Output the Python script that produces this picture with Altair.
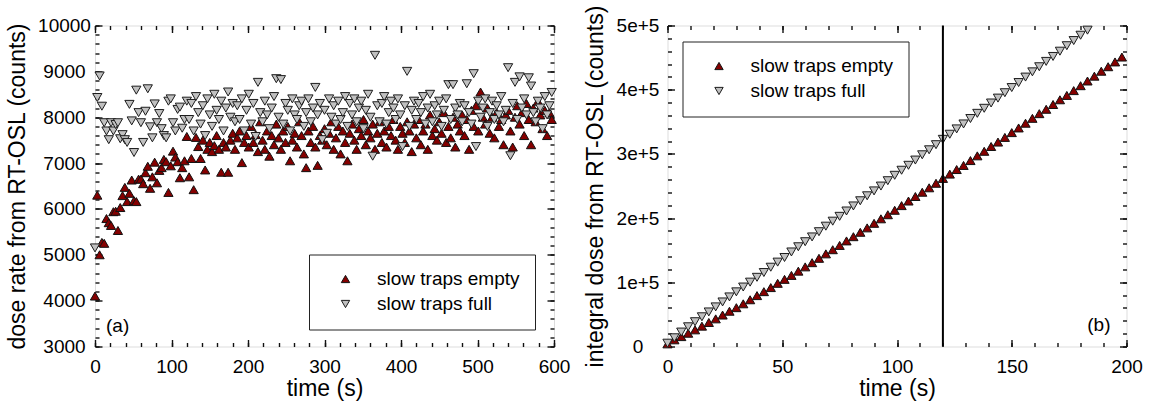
import altair as alt
import pandas as pd

FONT = "Liberation Sans"

# ---- data -------------------------------------------------------------
series_names = ["slow traps empty", "slow traps full"]
channel_s = 3
time_s = [channel_s * i for i in range(200)]

# dose rate (counts per channel), slow traps empty
empty_rate = [
    4100, 6300, 5000, 5270, 5250, 5790, 5700, 5640, 5940, 5950,
    5530, 6030, 6290, 6470, 6160, 6340, 6630, 6180, 6160, 6650,
    6650, 6550, 6790, 6930, 6450, 6700, 7020, 6570, 6840, 6900,
    7080, 7030, 6360, 6940, 7260, 7130, 7030, 6680, 6900, 7050,
    7580, 6700, 7100, 6420, 7560, 7360, 7100, 7500, 6850, 7300,
    7450, 7250, 7380, 7600, 7300, 6800, 7450, 7350, 6800, 7500,
    7650, 7300, 7550, 7700, 7010, 7450, 7600, 7350, 7800, 7450,
    7620, 7250, 7900, 7500, 7300, 7700, 7150, 7600, 7400, 7850,
    7550, 7300, 7700, 7450, 7800, 7050, 7500, 7650, 7350, 7900,
    7600, 7200, 6900, 7700, 7450, 7800, 7350, 6950, 7600, 7500,
    7750, 7400, 7650, 7900, 7300, 7550, 7800, 7200, 7700, 7450,
    7050, 7650, 7850, 7500, 7300, 7750, 7600, 7950, 7400, 7700,
    7550, 7850, 7300, 7650, 7900, 7450, 7700, 7350, 7800, 7600,
    7950, 7500, 7300, 7800, 7650, 7450, 7900, 7700, 7250, 7850,
    7550, 7950, 7400, 7700, 7850, 7300, 8050, 7600, 7750, 7500,
    7900, 7650, 8100, 7450, 7800, 7550, 8000, 7350, 7850, 7700,
    8050, 7600, 7950, 7300, 8150, 7800, 8250, 7700, 8550, 8000,
    7850, 8200, 7650, 8000, 7550, 8100, 7800, 7950, 7400, 8050,
    8150, 7700, 7350, 8000, 8250, 7850, 8100, 7600, 8300, 7950,
    7400, 8200, 7900, 8350, 8050, 7750, 8150, 7600, 8100, 7950,
]

# dose rate (counts per channel), slow traps full
full_rate = [
    5150, 8430, 8900, 8240, 7880, 7700, 7510, 7880, 7700, 7840,
    7880, 7530, 7620, 7510, 7450, 8280, 7920, 7230, 8590, 8100,
    7880, 7450, 8130, 8620, 7790, 7550, 8290, 7880, 8080, 7750,
    7600, 7550, 8350, 8400, 7880, 7700, 8170, 8220, 7760, 7950,
    8350, 7950, 8300, 7700, 8450, 8100, 7850, 8250, 7600, 8400,
    8050, 7800, 8500, 8150, 7950, 8350, 7700, 8200, 8550, 8000,
    8300, 7900, 8250, 7950, 8400, 7700, 8150, 8500, 7850, 8300,
    7580, 8760, 8100, 7900, 8350, 8050, 7750, 8200, 8450, 8840,
    8000, 8820, 7850, 8300, 8150, 7700, 8400, 8050, 7950, 8250,
    8350, 7800, 8100, 8400, 7900, 8200, 8650, 8050, 8300, 7510,
    8150, 7650, 8400, 8000, 8250, 7850, 8350, 7950, 8100, 8450,
    7800, 8300, 8050, 8400, 7900, 8200, 8350, 7750, 8150, 8500,
    8000, 7150, 9350, 8250, 7900, 8300, 8450, 7850, 8100, 8350,
    8200, 7950, 8400, 8050, 7360, 8250, 9000, 7800, 8150, 8350,
    7950, 8300, 8100, 8450, 7850, 8200, 8500, 7900, 8250, 8050,
    8350, 7800, 8150, 8400, 8710, 7950, 8710, 8200, 8050, 8300,
    7900, 8250, 8730, 8100, 7850, 8950, 7360, 8350, 8000, 8200,
    8400, 7800, 8100, 8350, 7950, 8250, 8050, 8450, 7900, 8150,
    9080, 7160, 8300, 8760, 7950, 8880, 8200, 8400, 8050, 8860,
    8680, 8100, 7900, 8350, 8200, 7750, 8450, 8050, 8250, 8540,
]

marker_time = [120]

left_x_major = [0, 100, 200, 300, 400, 500, 600]
left_x_minor = list(range(0, 601, 20))
left_y_major = [3000, 4000, 5000, 6000, 7000, 8000, 9000, 10000]
left_y_minor = list(range(3000, 10001, 200))
right_x_major = [0, 50, 100, 150, 200]
right_x_minor = list(range(0, 201, 10))
right_y_major = [0, 100000, 200000, 300000, 400000, 500000]
right_y_minor = list(range(0, 500001, 20000))

df = pd.DataFrame({
    "t": time_s + time_s,
    "v": empty_rate + full_rate,
    "series": [series_names[0]] * len(time_s) + [series_names[1]] * len(time_s),
})

# ---- styling helpers ---------------------------------------------------
W, H = 459, 321
MAJ, MIN = 7, 4
TICK_COLOR = "#111111"


def axis(orient, values, major=True, labels=False, title=None, fmt=None,
         label_expr=None, pad=0, title_pad=0, align=None):
    size = MAJ if major else MIN
    kw = dict(orient=orient, values=values, offset=-size, tickSize=size,
              domain=False, grid=False, labels=labels, ticks=True,
              tickColor=TICK_COLOR, tickWidth=1.4)
    if labels:
        kw.update(labelFont=FONT, labelFontSize=19, labelColor="black",
                  labelPadding=pad, labelFlush=False, labelOverlap=False)
        if align:
            kw.update(labelAlign=align, labelBaseline="middle")
    if fmt:
        kw["format"] = fmt
    if label_expr:
        kw["labelExpr"] = label_expr
    if title:
        kw.update(title=title, titleFont=FONT, titleFontSize=23,
                  titleFontWeight="normal", titleColor="black",
                  titlePadding=title_pad)
    return alt.Axis(**kw)


def legend(lx, ly):
    return alt.Legend(
        orient="none", legendX=lx, legendY=ly, title=None,
        strokeColor="#222222", fillColor="white", padding=15,
        labelFont=FONT, labelFontSize=19, labelColor="black",
        symbolSize=70, symbolStrokeWidth=1,
        symbolOffset=12, labelOffset=22, rowPadding=5,
    )


def panel(base, xscale, yscale, xmaj, xmin, ymaj, ymin, xtitle, ytitle,
          yfmt=None, ylabel_expr=None, ypad=31, ytitle_pad=10,
          lx=0, ly=0, extra=None, tag=None):
    shape = alt.Shape("series:N", title=None,
                      scale=alt.Scale(domain=series_names,
                                      range=["triangle-up", "triangle-down"]),
                      legend=legend(lx, ly))
    fill = alt.Fill("series:N", title=None,
                    scale=alt.Scale(domain=series_names,
                                    range=["#850000", "#c0c0c0"]),
                    legend=legend(lx, ly))
    stroke = alt.Stroke("series:N", title=None,
                        scale=alt.Scale(domain=series_names,
                                        range=["#111111", "#1c1c1c"]),
                        legend=legend(lx, ly))
    pts = base.mark_point(filled=True, size=85, opacity=1,
                          strokeWidth=1).encode(
        x=alt.X("t:Q", scale=xscale,
                axis=axis("bottom", xmaj, True, True, xtitle, fmt="d",
                          pad=11, title_pad=1)),
        y=alt.Y("v:Q", scale=yscale,
                axis=axis("left", ymaj, True, True, ytitle, fmt=yfmt,
                          label_expr=ylabel_expr, pad=ypad,
                          title_pad=ytitle_pad, align="center")),
        shape=shape, fill=fill, stroke=stroke,
    )
    ghost = base.mark_point(opacity=0, size=1)
    a2 = ghost.encode(
        x=alt.X("t:Q", scale=xscale, title=None, axis=axis("bottom", xmin, False)),
        y=alt.Y("v:Q", scale=yscale, title=None, axis=axis("left", ymin, False)))
    a3 = ghost.encode(
        x=alt.X("t:Q", scale=xscale, title=None, axis=axis("top", xmaj, True)),
        y=alt.Y("v:Q", scale=yscale, title=None, axis=axis("right", ymaj, True)))
    a4 = ghost.encode(
        x=alt.X("t:Q", scale=xscale, title=None, axis=axis("top", xmin, False)),
        y=alt.Y("v:Q", scale=yscale, title=None, axis=axis("right", ymin, False)))
    layers = [pts, a2, a3, a4]
    if extra is not None:
        layers.append(extra)
    layers.append(tag)
    return alt.layer(*layers).resolve_axis(x="independent", y="independent") \
        .properties(width=W, height=H)


# ---- left panel: dose rate ----------------------------------------------
left_base = alt.Chart(df)
tag_a = alt.Chart(pd.DataFrame({"label": ["(a)"]})).mark_text(
    font=FONT, fontSize=19, align="left", baseline="middle", color="black"
).encode(text="label:N", x=alt.value(11), y=alt.value(300))

left = panel(left_base,
             alt.Scale(domain=[0, 600], nice=False, zero=False),
             alt.Scale(domain=[3000, 10000], nice=False, zero=False),
             left_x_major, left_x_minor, left_y_major, left_y_minor,
             "time (s)", "dose rate from RT-OSL (counts)",
             yfmt="d", ypad=31, ytitle_pad=8, lx=214, ly=229, tag=tag_a)

# ---- right panel: integral dose (cumulative sum of the dose rate) --------
right_base = alt.Chart(df).transform_filter(
    alt.datum.t <= 200
).transform_window(
    cum="sum(v)", groupby=["series"], sort=[alt.SortField("t")], frame=[None, 0]
).transform_filter(
    alt.datum.cum <= 500000
).transform_calculate(v="datum.cum")

rule = alt.Chart(pd.DataFrame({"t": marker_time})).mark_rule(
    color="black", strokeWidth=2
).encode(x=alt.X("t:Q", axis=None))

tag_b = alt.Chart(pd.DataFrame({"label": ["(b)"]})).mark_text(
    font=FONT, fontSize=19, align="right", baseline="middle", color="black"
).encode(text="label:N", x=alt.value(443), y=alt.value(299))

right = panel(right_base,
              alt.Scale(domain=[0, 200], nice=False, zero=False),
              alt.Scale(domain=[0, 500000], nice=False, zero=False),
              right_x_major, right_x_minor, right_y_major, right_y_minor,
              "time (s)", "integral dose from RT-OSL (counts)",
              ylabel_expr="datum.value == 0 ? '0' : format(datum.value / 100000, 'd') + 'e+5'",
              ypad=30, ytitle_pad=9, lx=15, ly=16, extra=rule, tag=tag_b)

chart = alt.hconcat(left, right, spacing=12.5).resolve_scale(
    shape="independent", fill="independent", stroke="independent"
).properties(
    padding={"left": 6, "top": 3.5, "right": 2, "bottom": 2},
    background="white",
).configure_view(
    stroke="#1a1a1a", strokeWidth=1.7
).configure_axis(
    titleFontWeight="normal"
).configure(font=FONT)

chart.save("out.html", embed_options={"renderer": "svg", "actions": False})
